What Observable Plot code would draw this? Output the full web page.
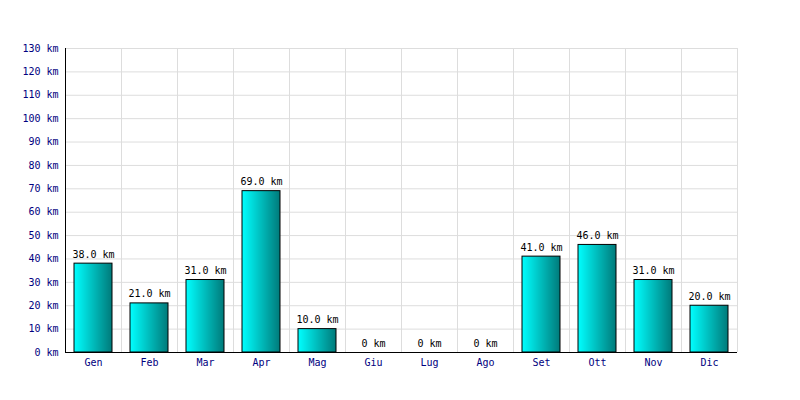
<!DOCTYPE html>
<html><head><meta charset="utf-8">
<script src="https://cdn.jsdelivr.net/npm/d3@7"></script>
<script src="https://cdn.jsdelivr.net/npm/@observablehq/plot@0.6"></script>
<style>body{margin:0;background:#fff}</style>
</head><body><div id="chart"></div>
<script>
const months = ["Gen","Feb","Mar","Apr","Mag","Giu","Lug","Ago","Set","Ott","Nov","Dic"];
const km = [38, 21, 31, 69, 10, 0, 0, 0, 41, 46, 31, 20];
const yTicks = [0,10,20,30,40,50,60,70,80,90,100,110,120,130];

const data = months.map((m, i) => ({month: m, km: km[i]}));
const fmt = v => v === 0 ? "0 km" : v.toFixed(1) + " km";

const chart = Plot.plot({
  width: 800, height: 400,
  marginLeft: 65, marginRight: 63, marginTop: 48, marginBottom: 48,
  style: {fontFamily: "DejaVu Sans Mono", fontSize: "10px", background: "#fff"},
  x: {domain: months, paddingInner: 0.32, paddingOuter: 0.16, label: null},
  y: {domain: [0, 130], label: null},
  marks: [
    Plot.ruleY(yTicks, {stroke: "#dddddd"}),
    Plot.ruleX(months, {x: d => d, dx: 28, stroke: "#dddddd"}),
    Plot.barY(data, {x: "month", y: "km", fill: "url(#barGrad)", stroke: "black", strokeWidth: 1}),
    Plot.text(data, {x: "month", y: "km", text: d => fmt(d.km), lineAnchor: "bottom", dy: -6, fill: "black", fontSize: 10}),
    Plot.ruleY([0], {stroke: "black"}),
    Plot.ruleX([months[0]], {dx: -28, stroke: "black"}),
    Plot.axisY({ticks: yTicks, tickFormat: d => d + " km", tickSize: 0, tickPadding: 7, fill: "#000080", fontSize: 10}),
    Plot.axisX({tickSize: 0, tickPadding: 6, fill: "#000080", fontSize: 10})
  ]
});

const ns = "http://www.w3.org/2000/svg";
const defs = document.createElementNS(ns, "defs");
defs.innerHTML = '<linearGradient id="barGrad" x1="0" y1="0" x2="1" y2="0"><stop offset="0" stop-color="#00ffff"/><stop offset="1" stop-color="#007a7a"/></linearGradient>';
chart.insertBefore(defs, chart.firstChild);
document.getElementById("chart").appendChild(chart);
</script>
</body></html>
